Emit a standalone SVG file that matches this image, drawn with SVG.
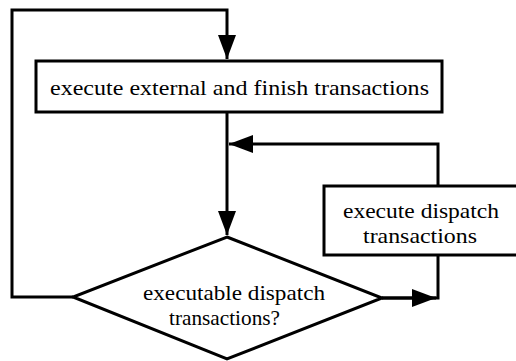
<svg xmlns="http://www.w3.org/2000/svg" width="516" height="361" viewBox="0 0 516 361">
  <style>
    .shape { fill: #fff; stroke: #000; stroke-width: 3; }
    .wire { fill: none; stroke: #000; stroke-width: 3; }
    .label { font-family: 'Liberation Serif', 'Times New Roman', 'DejaVu Serif', serif; font-size: 22px; fill: #000; text-anchor: middle; }
  </style>
  <defs>
    <marker id="arrow" markerUnits="userSpaceOnUse" markerWidth="26" markerHeight="18" refX="24" refY="9" orient="auto">
      <path d="M0,0 L24,9 L0,18 Z" fill="#000"/>
    </marker>
  </defs>
  <rect width="516" height="361" fill="#fff"/>

  <g id="connectors">
    <path class="wire" d="M73,297 H12 V10 H227 V59" marker-end="url(#arrow)"/>
    <path class="wire" d="M227,112 V235" marker-end="url(#arrow)"/>
    <path class="wire" d="M438,186 V144 H229" marker-end="url(#arrow)"/>
    <path class="wire" d="M382,298 H438 V255"/>
    <path class="wire" d="M382,298 H436" marker-end="url(#arrow)"/>
  </g>

  <g id="execute-external">
    <rect class="shape" x="36" y="61" width="406" height="51"/>
    <text class="label" font-family="Liberation Serif, serif" x="239.5" y="95" textLength="379" lengthAdjust="spacingAndGlyphs">execute external and finish transactions</text>
  </g>

  <g id="execute-dispatch">
    <rect class="shape" x="324" y="186" width="194" height="69"/>
    <text class="label" x="421" y="218" textLength="156" lengthAdjust="spacingAndGlyphs">execute dispatch</text>
    <text class="label" x="420" y="243" textLength="114" lengthAdjust="spacingAndGlyphs">transactions</text>
  </g>

  <g id="decision">
    <polygon class="shape" points="227,237 382,298 227,359 73,297"/>
    <text class="label" x="234" y="300" textLength="182" lengthAdjust="spacingAndGlyphs">executable dispatch</text>
    <text class="label" x="224.5" y="325" textLength="111" lengthAdjust="spacingAndGlyphs">transactions?</text>
  </g>
</svg>
